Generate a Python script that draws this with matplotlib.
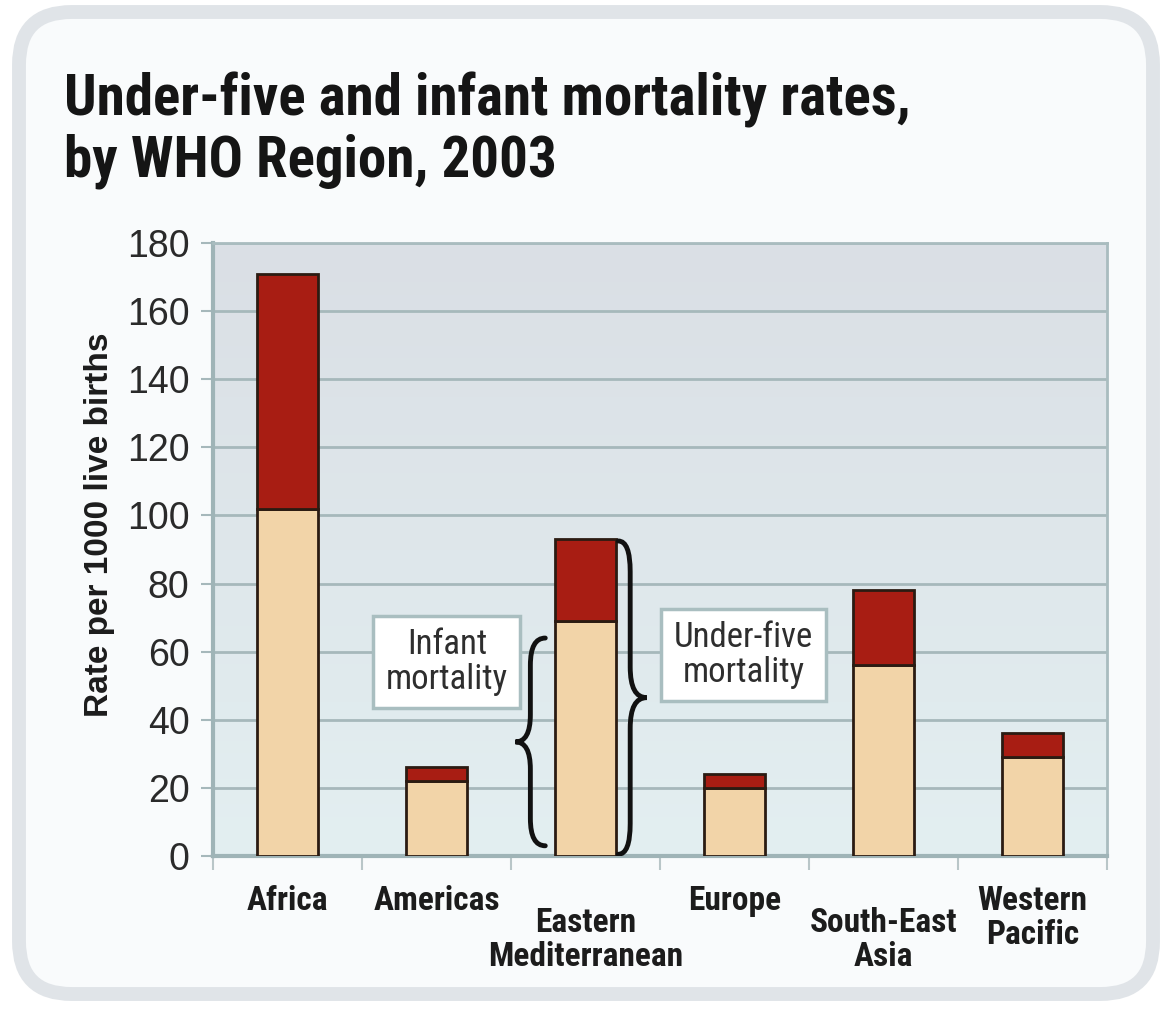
import matplotlib
matplotlib.use("Agg")
import matplotlib.pyplot as plt
import numpy as np
from matplotlib.patches import FancyBboxPatch, PathPatch
from matplotlib.path import Path
from matplotlib.colors import LinearSegmentedColormap
import matplotlib.transforms as mtransforms

# ---- data ----
regions = ["Africa", "Americas", "Eastern\nMediterranean", "Europe",
           "South-East\nAsia", "Western\nPacific"]
under_five = [171, 26, 93, 24, 78, 36]
infant = [102, 22, 69, 20, 56, 29]
yticks = [0, 20, 40, 60, 80, 100, 120, 140, 160, 180]

title = "Under-five and infant mortality rates,\nby WHO Region, 2003"
ylabel = "Rate per 1000 live births"

# ---- style ----
COND = ["Roboto Condensed", "DejaVu Sans"]
SANS = ["Liberation Sans", "DejaVu Sans"]
RED = "#a81d13"
BEIGE = "#f2d4a8"
EDGE = "#2b1b12"
GRID = "#a6b8bb"
TXT = "#1c1c1c"

W, H = 1168, 1011
fig = plt.figure(figsize=(W / 100, H / 100), dpi=100)
fig.patch.set_facecolor("white")

# outer rounded frame
frame = FancyBboxPatch((19 / W, 17 / H), (1153 - 19) / W, (999 - 17) / H,
                       boxstyle="round,pad=0,rounding_size=0.045",
                       transform=fig.transFigure, facecolor="#f9fbfc",
                       edgecolor="#e0e4e8", linewidth=10, zorder=-5,
                       mutation_aspect=W / H)
fig.patches.append(frame)

ax = fig.add_axes([213 / W, (H - 856) / H, (1107 - 213) / W, (856 - 243) / H])
ax.set_zorder(2)
ax.set_facecolor("none")

# gradient background
grad = np.linspace(0, 1, 256).reshape(-1, 1)
cmap = LinearSegmentedColormap.from_list("bg", ["#e3eff1", "#dadfe5"])
ax.imshow(grad, aspect="auto", cmap=cmap, origin="lower",
          extent=[0, 1, 0, 1], transform=ax.transAxes, zorder=0)

x = np.arange(len(regions))
bw = 0.415
ax.bar(x, infant, bw, color=BEIGE, edgecolor=EDGE, linewidth=2, zorder=3)
ax.bar(x, np.array(under_five) - np.array(infant), bw, bottom=infant,
       color=RED, edgecolor=EDGE, linewidth=2, zorder=3)

ax.set_xlim(-0.5, len(regions) - 0.5)
ax.set_ylim(0, 180)
ax.set_yticks(yticks)
ax.set_yticklabels([str(v) for v in yticks], fontsize=27, color="#2a2a2a",
                   family=SANS)
ax.yaxis.grid(True, color=GRID, linewidth=2, zorder=1)
ax.set_axisbelow(True)
ax.tick_params(axis="y", length=9, width=1.5, color=GRID, pad=8)

ax.set_xticks(x)
ax.set_xticklabels([])
ax.set_xticks(np.arange(-0.5, len(regions)), minor=True)
ax.tick_params(axis="x", which="major", length=0)
ax.tick_params(axis="x", which="minor", length=10, width=1.5, color="#b9c6c8")

for s in ["left", "bottom"]:
    ax.spines[s].set_color("#9fb4b7")
    ax.spines[s].set_linewidth(3)
for s in ["top", "right"]:
    ax.spines[s].set_color("#a9bcbf")
    ax.spines[s].set_linewidth(2)

# category labels
blend = mtransforms.blended_transform_factory(ax.transData, ax.transAxes)
label_top = {0: -0.048, 1: -0.048, 2: -0.083, 3: -0.048, 4: -0.083, 5: -0.048}
for i, name in enumerate(regions):
    ax.text(i, label_top[i], name, transform=blend, ha="center", va="top",
            fontsize=24, fontweight="bold", family=COND, color=TXT,
            linespacing=1.08)

ax.set_ylabel(ylabel, fontsize=24, fontweight="bold", color=TXT,
              family=SANS, labelpad=12)
ax.yaxis.set_label_coords(-0.11, 0.54)

fig.text(64 / W, 1 - 72 / H, title, ha="left", va="top", fontsize=41,
         fontweight="bold", family=COND, color="#151515", linespacing=1.12)

# annotation boxes
box = dict(boxstyle="square,pad=0.36", facecolor="white", edgecolor="#a9bec0",
           linewidth=2.5)
ax.text(1.07, 57, "Infant\nmortality", ha="center", va="center", fontsize=25,
        family=COND, color="#2e2e2e", bbox=box, linespacing=1.05, zorder=5)
ax.text(3.06, 59, "Under-five\nmortality", ha="center", va="center",
        fontsize=25, family=COND, color="#2e2e2e", bbox=box,
        linespacing=1.05, zorder=5)


def brace(xb, y0, y1, e, r, tip):
    ym = (y0 + y1) / 2
    verts = [(xb + e, y0), (xb, y0), (xb, y0 + r),
             (xb, ym - r),
             (xb, ym), (xb + tip, ym),
             (xb, ym), (xb, ym + r),
             (xb, y1 - r),
             (xb, y1), (xb + e, y1)]
    codes = [Path.MOVETO, Path.CURVE3, Path.CURVE3, Path.LINETO,
             Path.CURVE3, Path.CURVE3, Path.CURVE3, Path.CURVE3,
             Path.LINETO, Path.CURVE3, Path.CURVE3]
    return PathPatch(Path(verts, codes), facecolor="none", edgecolor="#111111",
                     linewidth=3.5, zorder=6, capstyle="round")


i_em = 2
# left brace spanning infant mortality of Eastern Mediterranean
ax.add_patch(brace(i_em - 0.37, 3, infant[i_em] - 5, 0.1, 8, -0.1))
# right brace spanning under-five mortality
ax.add_patch(brace(i_em + 0.30, 0.5, under_five[i_em] - 0.5, -0.08, 9, 0.11))

fig.savefig("out.png", dpi=100, facecolor=fig.get_facecolor())
